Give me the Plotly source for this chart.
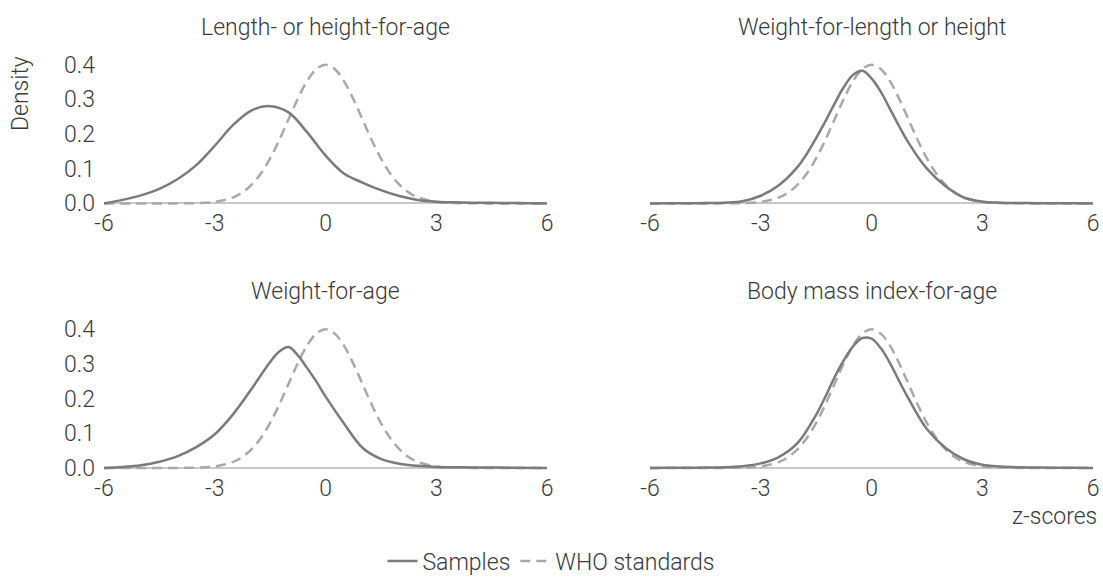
import plotly.graph_objects as go

# ---- data: density of z-scores, samples vs. WHO child growth standards ----
panel_titles = [
    "Length- or height-for-age",
    "Weight-for-length or height",
    "Weight-for-age",
    "Body mass index-for-age",
]

who_z = [-6, -5, -4.5, -4, -3.5, -3, -2.5, -2.25, -2, -1.75, -1.5, -1.25, -1, -0.75, -0.5, -0.25,
         0, 0.25, 0.5, 0.75, 1, 1.25, 1.5, 1.75, 2, 2.25, 2.5, 3, 3.5, 4, 4.5, 5, 6]
who_density = [0.0, 0.0, 0.0, 0.0001, 0.0009, 0.0044, 0.0175, 0.0317, 0.054, 0.0863, 0.1295, 0.1826,
               0.242, 0.3011, 0.352, 0.3867, 0.399, 0.3867, 0.352, 0.3011, 0.242, 0.1826, 0.1295,
               0.0863, 0.054, 0.0317, 0.0175, 0.0044, 0.0009, 0.0001, 0.0, 0.0, 0.0]

lhfa_z = [-6, -5.5, -5, -4.5, -4, -3.5, -3, -2.5, -2, -1.5, -1, -0.5, 0, 0.5, 1, 1.5, 2, 2.5,
          3, 3.5, 4, 4.5, 5, 5.5, 6]
lhfa_density = [0.0, 0.01, 0.023, 0.042, 0.07, 0.11, 0.166, 0.226, 0.268, 0.28, 0.262, 0.205,
                0.138, 0.086, 0.06, 0.038, 0.021, 0.01, 0.005, 0.003, 0.002, 0.0015, 0.001,
                0.0005, 0.0]

wfl_z = [-6, -5.5, -5, -4.5, -4, -3.5, -3, -2.5, -2, -1.75, -1.5, -1.25, -1, -0.75, -0.5, -0.25,
         0, 0.25, 0.5, 0.75, 1, 1.5, 2, 2.5, 3, 3.5, 4, 4.5, 5, 5.5, 6]
wfl_density = [0.0, 0.0003, 0.0005, 0.001, 0.002, 0.006, 0.022, 0.053, 0.105, 0.143, 0.188, 0.236,
               0.287, 0.335, 0.37, 0.382, 0.36, 0.322, 0.272, 0.222, 0.175, 0.1, 0.05, 0.017,
               0.005, 0.002, 0.001, 0.0007, 0.0005, 0.0003, 0.0]

wfa_z = [-6, -5.5, -5, -4.5, -4, -3.5, -3, -2.5, -2, -1.5, -1.25, -1, -0.75, -0.5, -0.25, 0,
         0.5, 1, 1.5, 2, 2.5, 3, 3.5, 4, 5, 6]
wfa_density = [0.0, 0.003, 0.008, 0.018, 0.034, 0.06, 0.097, 0.155, 0.228, 0.305, 0.335, 0.348,
               0.324, 0.288, 0.249, 0.206, 0.128, 0.058, 0.026, 0.012, 0.006, 0.003, 0.002,
               0.0015, 0.0008, 0.0]

bmi_z = [-6, -5.5, -5, -4.5, -4, -3.5, -3, -2.5, -2, -1.5, -1.25, -1, -0.75, -0.5, -0.25, 0,
         0.25, 0.5, 0.75, 1, 1.5, 2, 2.5, 3, 3.5, 4, 4.5, 5, 5.5, 6]
bmi_density = [0.0, 0.0003, 0.0005, 0.001, 0.002, 0.005, 0.013, 0.032, 0.072, 0.153, 0.205, 0.261,
               0.31, 0.35, 0.374, 0.372, 0.345, 0.302, 0.25, 0.2, 0.112, 0.058, 0.025, 0.009,
               0.004, 0.002, 0.001, 0.0005, 0.0003, 0.0]

sample_series = [(lhfa_z, lhfa_density), (wfl_z, wfl_density), (wfa_z, wfa_density), (bmi_z, bmi_density)]

x_ticks = [-6, -3, 0, 3, 6]
x_tick_text = ["-6", "-3", "0", "3", "6"]
y_ticks = [0.0, 0.1, 0.2, 0.3, 0.4]
y_tick_text = ["0.0", "0.1", "0.2", "0.3", "0.4"]

# ---- styling ----
W, H = 1103, 583
FONT = "Roboto Light, Roboto, sans-serif"
TEXT = "#3a3a3a"
SAMPLE_COLOR = "#7a7a7f"
WHO_COLOR = "#a9a9ad"
BASE_COLOR = "#c8c8c8"


def px_x(p):
    return p / W


def px_y(p):
    return 1 - p / H


col_domains = [[px_x(104), px_x(547)], [px_x(650), px_x(1093)]]
row_domains = [[px_y(207.6), px_y(58.1)], [px_y(474.9), px_y(325.4)]]
y_range = [-0.006, 0.42]

fig = go.Figure()

for i, (zs, dens) in enumerate(sample_series):
    suffix = "" if i == 0 else str(i + 1)
    xa, ya = "x" + suffix, "y" + suffix
    fig.add_trace(go.Scatter(
        x=who_z, y=who_density, mode="lines", name="WHO standards",
        line=dict(color=WHO_COLOR, width=2.5, dash="10px,6px", shape="spline", smoothing=1),
        xaxis=xa, yaxis=ya, legendgroup="who", showlegend=(i == 0), legendrank=2,
        hoverinfo="skip",
    ))
    fig.add_trace(go.Scatter(
        x=zs, y=dens, mode="lines", name="Samples",
        line=dict(color=SAMPLE_COLOR, width=2.5, shape="spline", smoothing=1),
        xaxis=xa, yaxis=ya, legendgroup="samples", showlegend=(i == 0), legendrank=1,
        hoverinfo="skip",
    ))

tick_font = dict(family=FONT, size=23, color=TEXT, weight=300)
layout_axes = {}
for i in range(4):
    row, col = divmod(i, 2)
    suffix = "" if i == 0 else str(i + 1)
    layout_axes["xaxis" + suffix] = dict(
        domain=col_domains[col], range=[-6, 6], anchor="y" + suffix,
        tickvals=x_ticks, ticktext=x_tick_text, tickfont=tick_font, ticklabelstandoff=2,
        showgrid=False, zeroline=False, showline=False, ticks="", automargin=False,
        fixedrange=True,
    )
    layout_axes["yaxis" + suffix] = dict(
        domain=row_domains[row], range=y_range, anchor="x" + suffix,
        tickvals=y_ticks, ticktext=y_tick_text, tickfont=tick_font,
        showticklabels=(col == 0), ticklabelstandoff=8,
        showgrid=False, zeroline=True, zerolinecolor=BASE_COLOR, zerolinewidth=1.5,
        showline=False, ticks="", automargin=False, fixedrange=True,
    )

annotations = []
title_y = [28, 295]
for i, title in enumerate(panel_titles):
    row, col = divmod(i, 2)
    annotations.append(dict(
        text=title, xref="paper", yref="paper",
        x=sum(col_domains[col]) / 2, y=px_y(title_y[row]),
        xanchor="center", yanchor="middle", showarrow=False,
        font=dict(family=FONT, size=23, color=TEXT, weight=300),
    ))
annotations.append(dict(
    text="Density", xref="paper", yref="paper", x=px_x(20), y=px_y(95),
    xanchor="center", yanchor="middle", textangle=-90, showarrow=False,
    font=dict(family=FONT, size=23, color=TEXT, weight=300),
))
annotations.append(dict(
    text="z-scores", xref="paper", yref="paper", x=px_x(1099), y=px_y(522),
    xanchor="right", yanchor="middle", showarrow=False,
    font=dict(family=FONT, size=23, color=TEXT, weight=300),
))

fig.update_layout(
    width=W, height=H, autosize=False,
    margin=dict(l=0, r=0, t=0, b=0, pad=0),
    paper_bgcolor="white", plot_bgcolor="white",
    font=dict(family=FONT, size=23, color=TEXT, weight=300),
    showlegend=True,
    legend=dict(
        orientation="h", x=0.5, xanchor="center", y=px_y(567), yanchor="middle",
        font=dict(family=FONT, size=23, color=TEXT, weight=300),
        itemwidth=30, bgcolor="rgba(0,0,0,0)", traceorder="normal",
    ),
    annotations=annotations,
    **layout_axes,
)

fig.write_html("out.html", config={"displayModeBar": False})
